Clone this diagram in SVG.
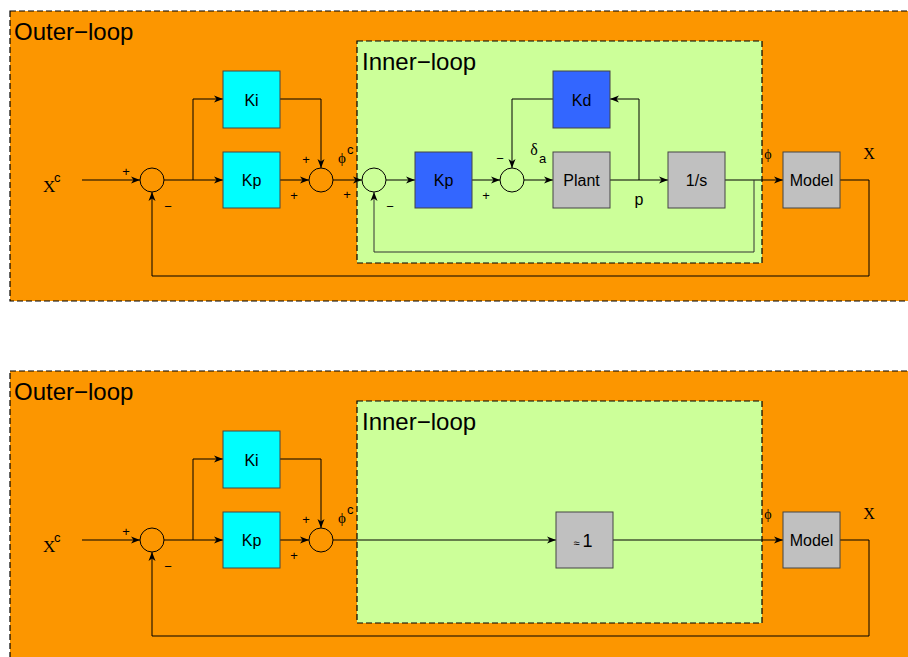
<svg xmlns="http://www.w3.org/2000/svg" width="908" height="657" viewBox="0 0 908 657">
  <style>
    .outer { fill: #FC9600; stroke: #000; stroke-width: 1.2; stroke-dasharray: 6 3; }
    .inner { fill: #CCFF99; stroke: #000; stroke-width: 1.2; stroke-dasharray: 6 3; }
    .blk { stroke: #444; stroke-width: 1; }
    .cyan { fill: #00FFFF; }
    .blue { fill: #3366FF; }
    .gray { fill: #C0C0C0; }
    .sum { fill: none; stroke: #000; stroke-width: 1; }
    .wire { fill: none; stroke: #000; stroke-width: 1; }
    .wire2 { fill: none; stroke: #333; stroke-width: 1; }
    .title { font-family: "Liberation Sans", Arial, sans-serif; font-size: 24px; fill: #000; }
    .lbl { font-family: "Liberation Sans", Arial, sans-serif; font-size: 16px; fill: #000; text-anchor: middle; }
    .sgn { font-family: "Liberation Sans", Arial, sans-serif; font-size: 13px; fill: #000; text-anchor: middle; }
    .ser { font-family: "Liberation Serif", "Times New Roman", serif; fill: #000; }
    .sup { font-family: "Liberation Sans", Arial, sans-serif; font-size: 13px; fill: #000; }
  </style>
  <defs>
    <marker id="arr" markerUnits="userSpaceOnUse" markerWidth="10" markerHeight="8" refX="9" refY="4" orient="auto">
      <path d="M0,0.5 L9,4 L0,7.5 L2.5,4 Z" fill="#000"/>
    </marker>
  </defs>

  <!-- ===== Top: full cascaded loop ===== -->
  <g id="top-outer"><rect class="outer" x="10" y="11" width="910" height="290"/>
    <text class="title" x="14" y="40">Outer−loop</text></g>
  <g id="top-inner"><rect class="inner" x="357" y="41" width="405" height="222"/>
    <text class="title" x="362" y="70">Inner−loop</text></g>

  <g id="top-connectors">
    <path class="wire" d="M82,180 H140" marker-end="url(#arr)"/>
    <path class="wire" d="M164,180 H223" marker-end="url(#arr)"/>
    <path class="wire" d="M193,180 V99 H223" marker-end="url(#arr)"/>
    <path class="wire" d="M280,99 H321 V168" marker-end="url(#arr)"/>
    <path class="wire" d="M280,180 H309" marker-end="url(#arr)"/>
    <path class="wire" d="M333,180 H362" marker-end="url(#arr)"/>
    <path class="wire" d="M386,180 H415" marker-end="url(#arr)"/>
    <path class="wire" d="M472,180 H500" marker-end="url(#arr)"/>
    <path class="wire" d="M524,180 H553" marker-end="url(#arr)"/>
    <path class="wire" d="M610,180 H668" marker-end="url(#arr)"/>
    <path class="wire" d="M639,180 V99 H610" marker-end="url(#arr)"/>
    <path class="wire" d="M553,99 H512 V168" marker-end="url(#arr)"/>
    <path class="wire" d="M725,180 H783" marker-end="url(#arr)"/>
    <path class="wire2" d="M754,180 V252 H374 V192" marker-end="url(#arr)"/>
    <path class="wire" d="M840,180 H869 V276 H152 V192" marker-end="url(#arr)"/>
  </g>

  <g id="top-sum1"><circle class="sum" cx="152" cy="180" r="12"/></g>
  <g id="top-ki"><rect class="blk cyan" x="223" y="71" width="57" height="57"/><text class="lbl" x="251.5" y="105.5">Ki</text></g>
  <g id="top-kp"><rect class="blk cyan" x="223" y="152" width="57" height="56"/><text class="lbl" x="251.5" y="186">Kp</text></g>
  <g id="top-sum2"><circle class="sum" cx="321" cy="180" r="12"/></g>
  <g id="top-sum3"><circle class="sum" cx="374" cy="180" r="12"/></g>
  <g id="top-kp-inner"><rect class="blk blue" x="415" y="152" width="57" height="56"/><text class="lbl" x="443.5" y="186">Kp</text></g>
  <g id="top-sum4"><circle class="sum" cx="512" cy="180" r="12"/></g>
  <g id="top-kd"><rect class="blk blue" x="553" y="71" width="57" height="57"/><text class="lbl" x="581.5" y="105.5">Kd</text></g>
  <g id="top-plant"><rect class="blk gray" x="553" y="152" width="57" height="56"/><text class="lbl" x="581.5" y="186">Plant</text></g>
  <g id="top-integrator"><rect class="blk gray" x="668" y="152" width="57" height="56"/><text class="lbl" x="696.5" y="186">1/s</text></g>
  <g id="top-model"><rect class="blk gray" x="783" y="152" width="57" height="56"/><text class="lbl" x="811.5" y="186">Model</text></g>

  <g id="top-labels">
    <text class="ser" x="43" y="192" font-size="17">X</text><text class="sup" x="54" y="182">c</text>
    <text class="sgn" x="126" y="176">+</text>
    <text class="sgn" x="168" y="211">−</text>
    <text class="sgn" x="306" y="164">+</text>
    <text class="sgn" x="294" y="200">+</text>
    <text class="ser" x="342" y="163" font-size="15" text-anchor="middle">ϕ</text><text class="sup" x="347" y="154">c</text>
    <text class="sgn" x="347" y="199">+</text>
    <text class="sgn" x="390" y="211">−</text>
    <text class="sgn" x="500" y="163">−</text>
    <text class="sgn" x="486" y="200">+</text>
    <text class="ser" x="534" y="155" font-size="16" text-anchor="middle">δ</text><text class="sup" x="539" y="163">a</text>
    <text class="lbl" x="639" y="205" font-size="15">p</text>
    <text class="ser" x="768" y="159" font-size="14" text-anchor="middle">ϕ</text>
    <text class="ser" x="869" y="159" font-size="16" text-anchor="middle">X</text>
  </g>

  <!-- ===== Bottom: inner loop reduced to unity ===== -->
  <g id="bot-outer"><rect class="outer" x="10" y="371" width="910" height="300"/>
    <text class="title" x="14" y="400">Outer−loop</text></g>
  <g id="bot-inner"><rect class="inner" x="357" y="401" width="405" height="222"/>
    <text class="title" x="362" y="430">Inner−loop</text></g>

  <g id="bot-connectors">
    <path class="wire" d="M82,540 H140" marker-end="url(#arr)"/>
    <path class="wire" d="M164,540 H223" marker-end="url(#arr)"/>
    <path class="wire" d="M193,540 V459 H223" marker-end="url(#arr)"/>
    <path class="wire" d="M280,459 H321 V528" marker-end="url(#arr)"/>
    <path class="wire" d="M280,540 H309" marker-end="url(#arr)"/>
    <path class="wire" d="M333,540 H556" marker-end="url(#arr)"/>
    <path class="wire" d="M613,540 H783" marker-end="url(#arr)"/>
    <path class="wire" d="M840,540 H869 V636 H152 V552" marker-end="url(#arr)"/>
  </g>

  <g id="bot-sum1"><circle class="sum" cx="152" cy="540" r="12"/></g>
  <g id="bot-ki"><rect class="blk cyan" x="223" y="431" width="57" height="57"/><text class="lbl" x="251.5" y="465.5">Ki</text></g>
  <g id="bot-kp"><rect class="blk cyan" x="223" y="512" width="57" height="56"/><text class="lbl" x="251.5" y="546">Kp</text></g>
  <g id="bot-sum2"><circle class="sum" cx="321" cy="540" r="12"/></g>
  <g id="bot-unity"><rect class="blk gray" x="556" y="512" width="57" height="56"/>
    <text class="lbl" x="583" y="547"><tspan font-size="11">≈ </tspan><tspan font-size="18">1</tspan></text></g>
  <g id="bot-model"><rect class="blk gray" x="783" y="512" width="57" height="56"/><text class="lbl" x="811.5" y="546">Model</text></g>

  <g id="bot-labels">
    <text class="ser" x="43" y="552" font-size="17">X</text><text class="sup" x="54" y="542">c</text>
    <text class="sgn" x="126" y="536">+</text>
    <text class="sgn" x="168" y="571">−</text>
    <text class="sgn" x="306" y="524">+</text>
    <text class="sgn" x="294" y="560">+</text>
    <text class="ser" x="342" y="523" font-size="15" text-anchor="middle">ϕ</text><text class="sup" x="347" y="514">c</text>
    <text class="ser" x="768" y="519" font-size="14" text-anchor="middle">ϕ</text>
    <text class="ser" x="869" y="519" font-size="16" text-anchor="middle">X</text>
  </g>
</svg>
